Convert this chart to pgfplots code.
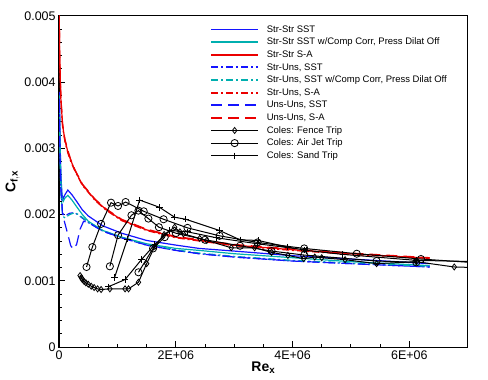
\documentclass[border=0pt]{standalone}
\usepackage{pgfplots}
\pgfplotsset{compat=1.18}
\usepackage{fontspec}
\setmainfont{Liberation Sans}
\definecolor{cfdblue}{RGB}{20,20,255}
\definecolor{cfdteal}{RGB}{0,175,175}
\definecolor{cfdred}{RGB}{235,0,0}
\tikzset{
  ddot/.style={dash pattern=on 7bp off 3bp on 2bp off 3bp},
  dsh/.style={dash pattern=on 11bp off 6bp}
}
\pgfplotsset{
  leg/.style 2 args={legend image code/.code={
      \color{#1}
      \draw[line width=1.3bp,draw=#1,#2] (0bp,-0.3bp) -- (47bp,-0.3bp);
      \draw[line width=1.3bp,draw=#1,#2] (0bp,0.3bp) -- (47bp,0.3bp);}},
  legm/.style={legend image code/.code={
      \color{black}
      \draw[draw=black,line width=1.1bp] (0bp,0bp) -- (47bp,0bp);
      \draw[draw=black,line width=0.8bp] plot[#1] coordinates {(23.5bp,0bp)};}}
}
\begin{document}
\begin{tikzpicture}
\begin{axis}[
    scale only axis,
    width=408bp, height=331bp,
    xmin=0, xmax=7e6,
    ymin=0, ymax=0.005,
    xtick={0,2e6,4e6,6e6},
    xticklabels={0,2E+06,4E+06,6E+06},
    ytick={0,0.001,0.002,0.003,0.004,0.005},
    yticklabels={0,0.001,0.002,0.003,0.004,0.005},
    scaled x ticks=false, scaled y ticks=false,
    minor x tick num=3, minor y tick num=4,
    xtick pos=bottom, ytick pos=left,
    tick align=inside,
    major tick length=6bp, minor tick length=3bp,
    axis line style={line width=1.3bp},
    every tick/.style={black, line width=0.9bp},
    tick label style={font=\fontsize{12.5}{14}\selectfont},
    /pgf/number format/assume math mode=true,
    xlabel={\textbf{Re}$_{\mathbf{x}}$},
    ylabel={\textbf{C}$_{\mathbf{f,x}}$},
    label style={font=\fontsize{14}{16}\selectfont},
    xlabel style={yshift=5bp},
    ylabel style={yshift=-2bp},
    legend cell align=left,
    legend style={at={(rel axis cs:0.370,0.978)}, anchor=north west, draw=none, fill=none,
        inner sep=0pt, column sep=8bp,
        font=\fontsize{9.5}{11}\selectfont,
        nodes={inner xsep=0bp, inner ysep=1.8bp, text height=7.2bp, text depth=1.8bp}},
    every axis plot/.append style={line width=1.2bp},
    unbounded coords=jump,
    x filter/.expression={x*1e6}, y filter/.expression={y*1e-3},
]
% Str-Str SST
\addplot[color=cfdblue, no markers, leg={cfdblue}{solid}] coordinates {
(0.004,3.85)(0.015,3.2)(0.03,2.6)(0.05,2.3)(0.07,2.24)(0.10,2.30)(0.15,2.37)(0.22,2.30)(0.3,2.20)(0.4,2.07)(0.5,1.98)(0.75,1.83)(1.07,1.72)(1.5,1.61)(2.0,1.54)(2.4,1.49)(3.0,1.45)(4.0,1.38)(5.0,1.33)(6.35,1.26)};
\addlegendentry{Str-Str SST}
% Str-Str SST w/Comp Corr
\addplot[color=cfdteal, no markers, leg={cfdteal}{solid}] coordinates {
(0.004,3.8)(0.015,3.15)(0.03,2.55)(0.05,2.25)(0.07,2.20)(0.10,2.25)(0.15,2.29)(0.22,2.22)(0.3,2.12)(0.4,2.0)(0.5,1.90)(0.75,1.76)(1.07,1.66)(1.5,1.56)(2.0,1.49)(2.4,1.46)(3.0,1.41)(4.0,1.35)(5.0,1.29)(6.35,1.23)};
\addlegendentry{Str-Str SST w/Comp Corr, Press Dilat Off}
% Str-Str S-A
\addplot[color=cfdred, no markers, leg={cfdred}{solid}] coordinates {
(0.003,5.0)(0.01,4.4)(0.03,3.75)(0.06,3.35)(0.1,3.12)(0.15,2.95)(0.2,2.82)(0.27,2.67)(0.4,2.45)(0.62,2.22)(0.8,2.08)(1.07,1.92)(1.5,1.77)(2.0,1.66)(2.5,1.60)(3.0,1.54)(4.0,1.47)(5.0,1.41)(6.35,1.34)};
\addlegendentry{Str-Str S-A}
% Str-Uns SST
\addplot[color=cfdblue, no markers, ddot, leg={cfdblue}{ddot}] coordinates {
(0.004,3.75)(0.015,3.0)(0.03,2.4)(0.06,2.02)(0.10,1.98)(0.18,2.02)(0.27,2.03)(0.35,1.98)(0.5,1.88)(0.75,1.75)(1.07,1.65)(1.5,1.54)(2.0,1.46)(2.4,1.41)(3.0,1.36)(4.0,1.30)(5.0,1.26)(6.35,1.21)};
\addlegendentry{Str-Uns, SST}
% Str-Uns SST w/Comp Corr
\addplot[color=cfdteal, no markers, ddot, leg={cfdteal}{ddot}] coordinates {
(0.004,3.7)(0.015,2.95)(0.03,2.35)(0.06,1.98)(0.10,1.95)(0.18,2.0)(0.27,2.03)(0.35,1.99)(0.5,1.89)(0.75,1.76)(1.07,1.66)(1.5,1.55)(2.0,1.47)(2.4,1.42)(3.0,1.37)(4.0,1.31)(5.0,1.27)(6.35,1.22)};
\addlegendentry{Str-Uns, SST w/Comp Corr, Press Dilat Off}
% Str-Uns S-A
\addplot[color=cfdred, no markers, ddot, leg={cfdred}{ddot}] coordinates {
(0.003,5.0)(0.01,4.35)(0.03,3.72)(0.06,3.33)(0.1,3.10)(0.15,2.93)(0.2,2.80)(0.27,2.66)(0.4,2.44)(0.62,2.21)(0.8,2.07)(1.07,1.91)(1.5,1.76)(2.0,1.65)(2.5,1.59)(3.0,1.53)(4.0,1.46)(5.0,1.40)(6.35,1.34)};
\addlegendentry{Str-Uns, S-A}
% Uns-Uns SST
\addplot[color=cfdblue, no markers, dsh, leg={cfdblue}{dsh}] coordinates {
(0.004,3.7)(0.015,2.95)(0.03,2.4)(0.06,2.0)(0.09,1.90)(0.15,1.70)(0.2,1.53)(0.245,1.48)(0.3,1.55)(0.36,1.78)(0.42,1.90)(0.5,1.88)(0.75,1.75)(1.07,1.65)(1.5,1.54)(2.0,1.46)(2.4,1.41)(3.0,1.36)(4.0,1.30)(5.0,1.26)(6.35,1.21)};
\addlegendentry{Uns-Uns, SST}
% Uns-Uns S-A
\addplot[color=cfdred, no markers, dsh, leg={cfdred}{dsh}] coordinates {
(0.003,5.0)(0.01,4.45)(0.03,3.78)(0.06,3.37)(0.1,3.14)(0.15,2.97)(0.2,2.83)(0.27,2.68)(0.4,2.46)(0.62,2.23)(0.8,2.09)(1.07,1.93)(1.5,1.78)(2.0,1.67)(2.5,1.61)(3.0,1.55)(4.0,1.48)(5.0,1.42)(6.35,1.35)};
\addlegendentry{Uns-Uns, S-A}
% Coles: Fence Trip
\addplot[color=black, line width=1bp, mark=diamond, mark size=3bp, mark options={solid, fill=white, line width=0.8bp},
  legm={mark=diamond, mark size=3bp, mark options={fill=white}}] coordinates {
(0.36,1.08)(0.38,1.05)(0.40,1.02)(0.43,0.99)(0.46,0.97)(0.50,0.95)(0.55,0.92)(0.60,0.90)(0.66,0.88)(0.72,0.87)(0.87,0.88)(1.13,0.88)(1.19,0.88)(1.36,0.98)(1.50,1.26)(1.64,1.52)(1.80,1.70)(1.98,1.81)(2.07,1.74)(2.13,1.71)(2.41,1.64)(2.53,1.61)(2.95,1.50)(3.35,1.50)(3.64,1.43)(3.92,1.385)(4.19,1.335)(4.38,1.36)(4.50,1.35)(4.90,1.32)(5.44,1.26)(6.12,1.29)(6.77,1.21)(7.2,1.20)};
\addlegendentry{Coles: Fence Trip}
% Coles: Air Jet Trip
\addplot[color=black, line width=1bp, mark=o, mark size=3.6bp, mark options={solid, fill=white, line width=0.8bp},
  legm={mark=o, mark size=3.6bp, mark options={fill=white}}] coordinates {
(0.47,1.21)(0.57,1.51)(0.72,1.86)(0.89,2.18)(1.01,2.13)(1.14,2.19)(1.45,2.05)(1.79,1.93)(2.2,1.80)(2.75,1.68)(3.4,1.58)(4.2,1.49)(5.1,1.41)(6.2,1.33)(7.2,1.27)
(1.0,nan)
(0.87,1.22)(1.01,1.69)(1.24,1.99)(1.36,2.06)(1.53,1.94)(1.71,1.81)(2.0,1.72)(2.5,1.62)(3.1,1.53)(3.64,1.45)(4.2,1.39)(5.44,1.30)(6.12,1.28)
(1.0,nan)
(1.36,1.13)(1.61,1.49)(1.81,1.66)};
\addlegendentry{Coles: Air Jet Trip}
% Coles: Sand Trip
\addplot[color=black, line width=1bp, mark=+, mark size=3.2bp, mark options={solid, line width=1bp},
  legm={mark=+, mark size=3.2bp, mark options={line width=1bp}}] coordinates {
(0.95,1.05)(1.17,1.63)(1.38,2.22)(1.72,2.11)(1.98,1.96)(2.17,1.93)(2.75,1.76)(3.10,1.62)(3.41,1.61)(3.92,1.51)(4.24,1.46)(4.86,1.40)(6.12,1.31)(7.2,1.29)
(1.0,nan)
(0.84,0.91)(1.13,1.02)(1.41,1.32)(1.64,1.55)(1.90,1.76)(2.2,1.74)(2.7,1.65)(3.4,1.56)(4.2,1.47)};
\addlegendentry{Coles: Sand Trip}
\end{axis}
\path ([xshift=-59bp,yshift=-32.3bp]current axis.south west) rectangle ([xshift=20.3bp,yshift=15.7bp]current axis.north east);
\end{tikzpicture}
\end{document}
